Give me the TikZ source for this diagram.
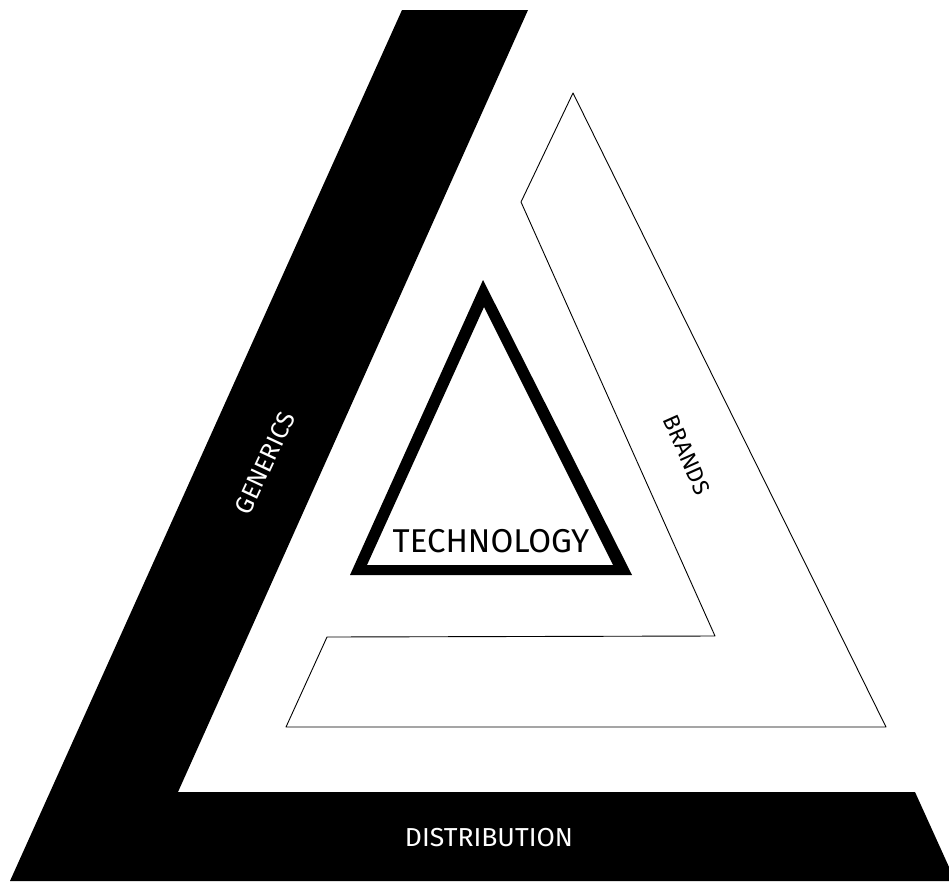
\documentclass[tikz,border=0pt]{standalone}
\usepackage{fontspec}
\setmainfont{Fira Sans}
\usepackage{pdfrender}
\begin{document}
\begin{tikzpicture}[x=1pt,y=-1pt,
  lbl/.style={inner sep=0pt,font=\fontsize{#1}{#1}\selectfont},
  thin outline/.style={draw=black,line width=0.9pt,line join=round}]
\useasboundingbox (0,0) rectangle (949,881);
\fill[white] (0,0) rectangle (949,881);
% big black L band
\fill[black] (402,10) -- (528,10) -- (178,792) -- (915,792) -- (949,867) -- (949,881) -- (10,881) -- cycle;
% outlined brands shape
\draw[thin outline] (573,93) -- (886,727) -- (286,727) -- (327,637) -- (715,636) -- (521,202) -- cycle;
% technology triangle ring
\fill[black,even odd rule] (483,280) -- (632,575) -- (350,575) -- cycle
  (484,307) -- (613,565) -- (367,565) -- cycle;
% labels
\node[lbl=33,xscale=1.0] (tech) at (491,541) {TECHNOLOGY};
\node[lbl=26,text=white,xscale=1.02] (dist) at (489,838) {DISTRIBUTION};
\node[lbl=25,text=white,rotate=65] (gen) at (265,463) {GENERICS};
\node[lbl=23,rotate=-66] (brands) at (687,455) {\textpdfrender{TextRenderingMode=Stroke,LineWidth=0.8}{BRANDS}};
\end{tikzpicture}
\end{document}
